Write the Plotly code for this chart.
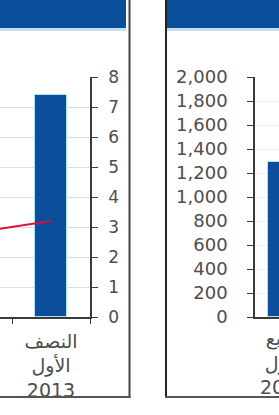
import plotly.graph_objects as go

# ---- data ----
left_categories = ["النصف<br>الثاني<br>2012", "النصف<br>الأول<br>2013"]
left_bar_values = [None, 7.4]
left_line_values = [2.8, 3.2]
left_y_ticks = [0, 1, 2, 3, 4, 5, 6, 7, 8]

right_categories = ["الربع<br>الأول<br>2013"]
right_bar_values = [1290]
right_y_ticks = [0, 200, 400, 600, 800, 1000, 1200, 1400, 1600, 1800, 2000]

W, H = 279, 415
BLUE = "#0b4e9c"
EDGE = "#a8e4f2"
AXIS = "#3a3a3a"
TXT = "#4d4d4d"
FONT = "DejaVu Sans"

def px(x):
    return x / W

def py(y):
    return 1 - y / H

fig = go.Figure()

fig.add_trace(go.Bar(x=left_categories, y=left_bar_values, width=0.4,
                     marker=dict(color=BLUE, line=dict(color=EDGE, width=1)),
                     xaxis="x", yaxis="y", showlegend=False))
fig.add_trace(go.Scatter(x=left_categories, y=left_line_values, mode="lines",
                         line=dict(color="#d4123e", width=2),
                         xaxis="x", yaxis="y", showlegend=False))
fig.add_trace(go.Bar(x=right_categories, y=right_bar_values, width=0.54,
                     marker=dict(color=BLUE, line=dict(color=EDGE, width=1)),
                     xaxis="x2", yaxis="y2", showlegend=False))

ydom = [py(317), py(77)]
x2_visible = 24 / 57          # visible share of the first category in the right panel
x2_range = [-0.5, -0.5 + x2_visible]

fig.update_layout(
    width=W, height=H,
    margin=dict(l=0, r=0, t=0, b=0, autoexpand=False),
    paper_bgcolor="white", plot_bgcolor="white",
    font=dict(family=FONT, color=TXT),
    bargap=0,
    xaxis=dict(domain=[0, px(90)], type="category", range=[0.346, 1.5],
               showline=True, linecolor=AXIS, linewidth=1.5,
               ticks="outside", tickson="boundaries", ticklen=5, tickcolor=AXIS,
               tickfont=dict(size=19, color=TXT), showgrid=False,
               anchor="y", ticklabelstandoff=6, automargin=False),
    yaxis=dict(domain=ydom, range=[0, 8], side="right", anchor="x",
               tickvals=left_y_ticks, showline=True, linecolor=AXIS, linewidth=1.5,
               ticks="outside", ticklen=6, tickcolor=AXIS,
               tickfont=dict(size=17, color=TXT), showgrid=True,
               gridcolor="#dedede", gridwidth=1, zeroline=False,
               ticklabelstandoff=7, automargin=False),
    xaxis2=dict(domain=[px(255), 1], type="category", range=x2_range,
                showline=True, linecolor=AXIS, linewidth=1.5,
                ticks="", showticklabels=False, showgrid=False,
                anchor="y2", automargin=False),
    yaxis2=dict(domain=ydom, range=[0, 2000], side="left", anchor="x2",
                tickvals=right_y_ticks, tickformat=",d",
                showline=True, linecolor=AXIS, linewidth=1.5,
                ticks="outside", ticklen=6, tickcolor=AXIS,
                tickfont=dict(size=18, color=TXT), showgrid=True,
                gridcolor="#f0f0f0", gridwidth=1, zeroline=False,
                ticklabelstandoff=16, automargin=False),
)

# category label of the right panel: its centre (category 0) lies past the visible range,
# so place it in the x2 domain fraction that corresponds to category index 0
centre_frac = (0 - x2_range[0]) / (x2_range[1] - x2_range[0])
fig.add_annotation(x=centre_frac, y=0, xref="x2 domain", yref="y2",
                   text=right_categories[0], showarrow=False,
                   xanchor="center", yanchor="top", yshift=-8,
                   font=dict(size=19, color=TXT, family=FONT))

shapes = []
# headers
shapes.append(dict(type="rect", xref="paper", yref="paper", x0=0, x1=px(126),
                   y0=py(28), y1=1, fillcolor=BLUE, line=dict(width=0), layer="above"))
shapes.append(dict(type="rect", xref="paper", yref="paper", x0=0, x1=px(126),
                   y0=py(31), y1=py(28), fillcolor="#c7dcf0", line=dict(width=0), layer="above"))
shapes.append(dict(type="rect", xref="paper", yref="paper", x0=px(167), x1=1,
                   y0=py(28), y1=1, fillcolor=BLUE, line=dict(width=0), layer="above"))
shapes.append(dict(type="rect", xref="paper", yref="paper", x0=px(167), x1=1,
                   y0=py(31), y1=py(28), fillcolor="#c7dcf0", line=dict(width=0), layer="above"))
# frames
shapes.append(dict(type="line", xref="paper", yref="paper", x0=px(129.5), x1=px(129.5),
                   y0=py(398), y1=1, line=dict(color="#444", width=2), layer="above"))
shapes.append(dict(type="line", xref="paper", yref="paper", x0=0, x1=px(130.5),
                   y0=py(397), y1=py(397), line=dict(color="#555", width=2), layer="above"))
shapes.append(dict(type="line", xref="paper", yref="paper", x0=px(166), x1=px(166),
                   y0=py(398), y1=1, line=dict(color="#222", width=2), layer="above"))
shapes.append(dict(type="line", xref="paper", yref="paper", x0=px(165), x1=1,
                   y0=py(397), y1=py(397), line=dict(color="#555", width=2), layer="above"))
fig.update_layout(shapes=shapes)

fig.write_html("out.html", config={"displayModeBar": False},
               post_script="document.body.style.margin='0';")
